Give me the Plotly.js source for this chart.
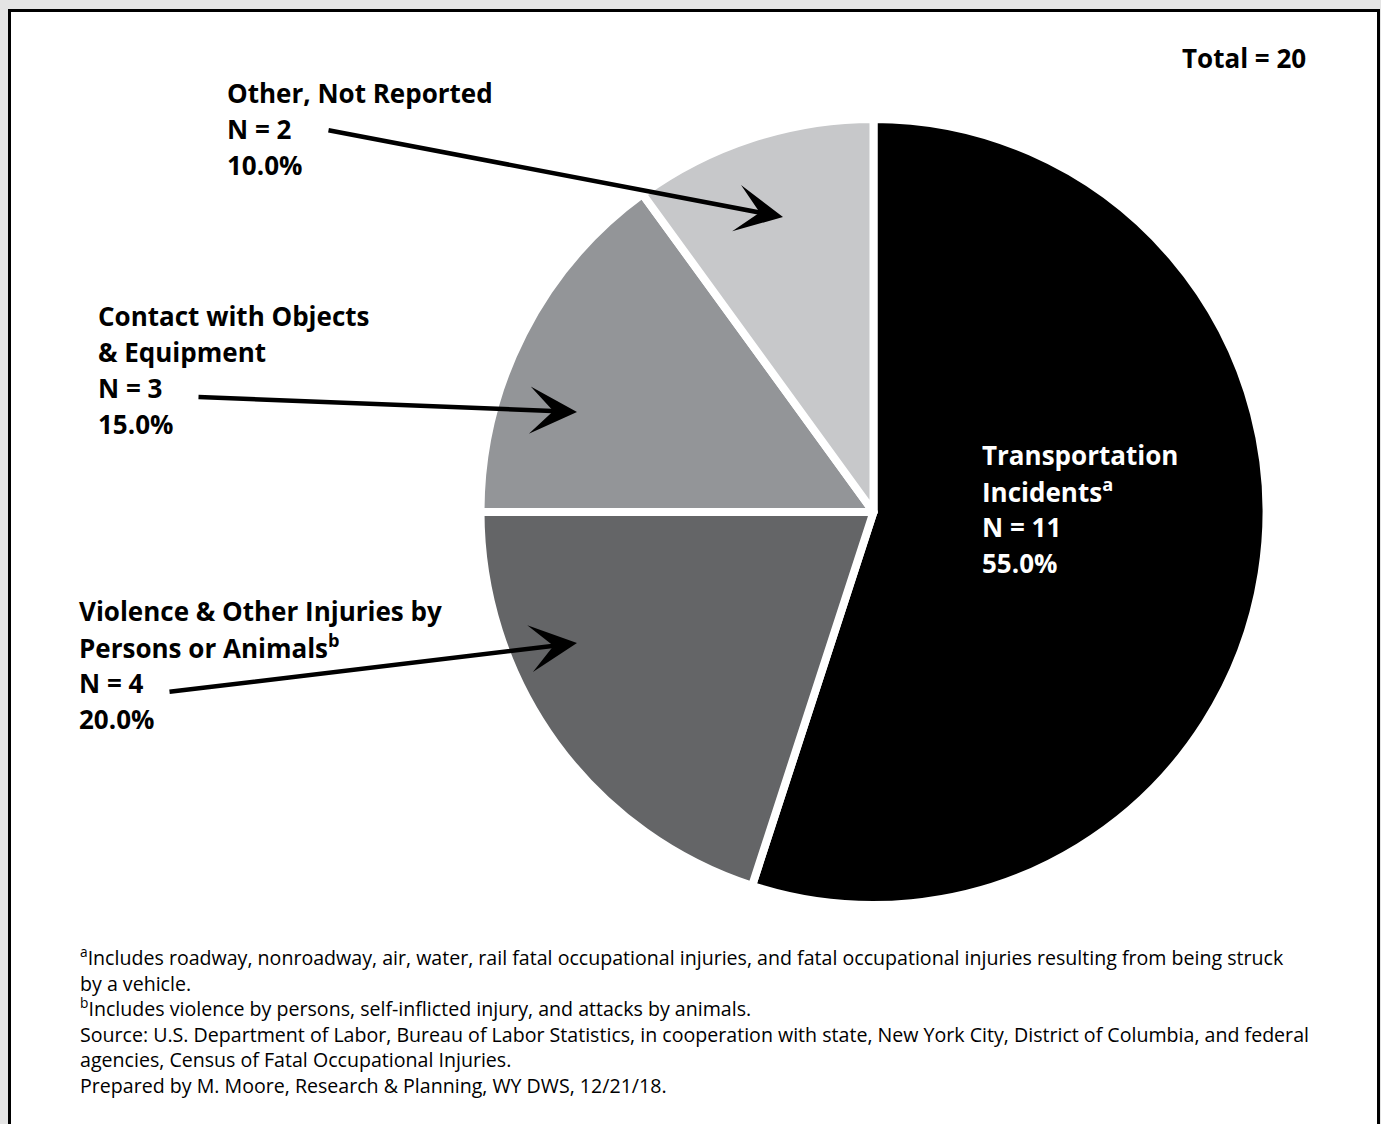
<!DOCTYPE html>
<html>
<head>
<meta charset="utf-8">
<script src="https://cdn.plot.ly/plotly-3.0.1.min.js"></script>
<style>
  html, body { margin: 0; padding: 0; background: #e4e4e4; }
  #chart { width: 1381px; height: 1124px; }
</style>
</head>
<body>
<div id="chart"></div>
<script>
// ---- data ----
const categories = [
  "Transportation Incidents",
  "Violence & Other Injuries by Persons or Animals",
  "Contact with Objects & Equipment",
  "Other, Not Reported"
];
const counts = [11, 4, 3, 2];
const percents = ["55.0%", "20.0%", "15.0%", "10.0%"];
const sliceColors = ["#000000", "#646567", "#939598", "#c7c8ca"];
const total = 20;

const labelLines = [
  ["Transportation", "Incidents<sup>a</sup>"],
  ["Violence & Other Injuries by", "Persons or Animals<sup>b</sup>"],
  ["Contact with Objects", "& Equipment"],
  ["Other, Not Reported"]
];

const footnotes = [
  "<sup>a</sup>Includes roadway, nonroadway, air, water, rail fatal occupational injuries, and fatal occupational injuries resulting from being struck",
  "by a vehicle.",
  "<sup>b</sup>Includes violence by persons, self-inflicted injury, and attacks by animals.",
  "Source: U.S. Department of Labor, Bureau of Labor Statistics, in cooperation with state, New York City, District of Columbia, and federal",
  "agencies, Census of Fatal Occupational Injuries.",
  "Prepared by M. Moore, Research & Planning, WY DWS, 12/21/18."
];

// ---- layout helpers ----
const W = 1381, H = 1124;
const px = x => x / W;
const py = y => 1 - y / H;

const FAMILY = "'Open Sans', Lato, sans-serif";
const labelFont = { family: FAMILY, size: 26, color: "#000", weight: 700 };
const LINE = 36;

// label placement (x left, first-line center y) and arrows (start -> tip), pixel space
const labelPos = [
  { x: 980, y: 455, color: "#ffffff" },
  { x: 77, y: 611, color: "#000" },
  { x: 96, y: 316, color: "#000" },
  { x: 225, y: 93, color: "#000" }
];
const arrows = [
  null,
  { sx: 168, sy: 692, tx: 577, ty: 643 },
  { sx: 197, sy: 397, tx: 577, ty: 412 },
  { sx: 327, sy: 130, tx: 783, ty: 217 }
];

const annotations = [];
labelPos.forEach((p, i) => {
  const lines = labelLines[i].concat(["N = " + counts[i], percents[i]]);
  lines.forEach((l, k) => {
    annotations.push({
      xref: "paper", yref: "paper", x: px(p.x), y: py(p.y + k * LINE),
      xanchor: "left", yanchor: "middle", align: "left",
      text: "<b>" + l + "</b>", showarrow: false,
      font: Object.assign({}, labelFont, { color: p.color })
    });
  });
  const a = arrows[i];
  if (a) {
    annotations.push({
      xref: "paper", yref: "paper", x: px(a.tx), y: py(a.ty),
      ax: a.sx - a.tx, ay: a.sy - a.ty,
      text: "", showarrow: true, arrowhead: 3, arrowsize: 1.75,
      arrowwidth: 4.5, arrowcolor: "#000", standoff: 0
    });
  }
});

annotations.push({
  xref: "paper", yref: "paper", x: px(1308), y: py(58),
  xanchor: "right", yanchor: "middle",
  text: "<b>Total = " + total + "</b>", showarrow: false, font: labelFont
});

annotations.push({
  xref: "paper", yref: "paper", x: px(78), y: py(1020),
  xanchor: "left", yanchor: "middle", align: "left",
  text: footnotes.join("<br>"), showarrow: false,
  font: { family: FAMILY, size: 19.6, color: "#000" }
});

const trace = {
  type: "pie",
  labels: categories,
  values: counts,
  sort: false,
  direction: "clockwise",
  rotation: 0,
  marker: { colors: sliceColors, line: { color: "#ffffff", width: 8 } },
  textinfo: "none",
  hoverinfo: "none",
  showlegend: false,
  domain: { x: [px(480.5), px(1266.5)], y: [py(905), py(119)] }
};

const layout = {
  width: W, height: H,
  margin: { l: 0, r: 0, t: 0, b: 0 },
  paper_bgcolor: "#e4e4e4",
  showlegend: false,
  shapes: [{
    type: "rect", xref: "paper", yref: "paper", layer: "below",
    x0: px(9.5), x1: px(1378.5), y0: -0.02, y1: py(10.5),
    line: { color: "#000", width: 3 }, fillcolor: "#ffffff"
  }],
  annotations: annotations
};

Plotly.newPlot("chart", [trace], layout, { displayModeBar: false, staticPlot: true });
</script>
</body>
</html>
